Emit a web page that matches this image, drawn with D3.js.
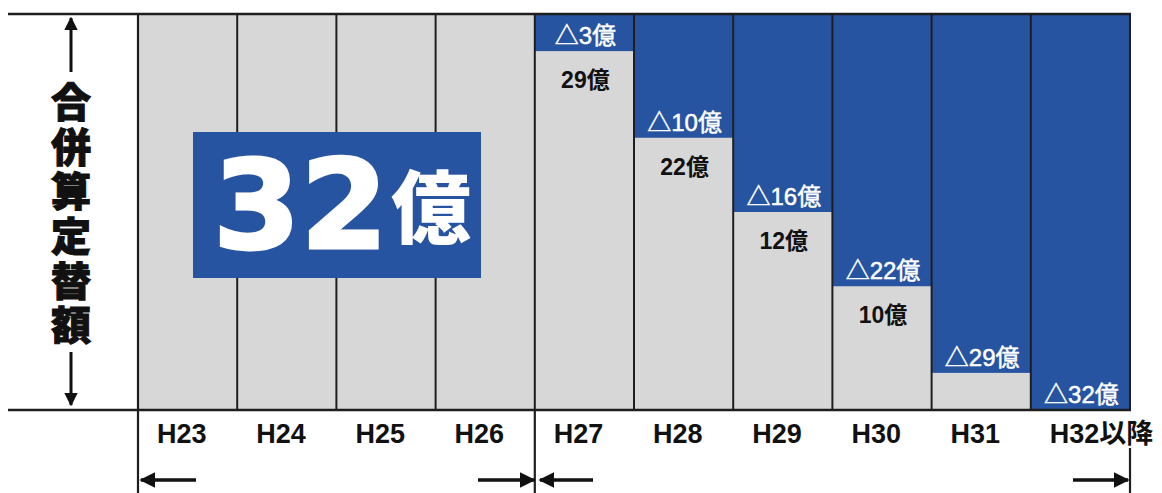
<!DOCTYPE html>
<html>
<head>
<meta charset="utf-8">
<script src="https://cdn.jsdelivr.net/npm/d3@7/dist/d3.min.js"></script>
<style>
html,body{margin:0;padding:0;background:#fff;}
svg{display:block;}
</style>
</head>
<body>
<svg id="chart" width="1162" height="493"></svg>
<script>
// ---- data ----
const categories = ["H23","H24","H25","H26","H27","H28","H29","H30","H31","H32以降"];
const total = 32;                                   // 合併算定替額 (億)
const reduction = [0,0,0,0,3,10,16,22,29,32];       // △ reduction (億)
const remainingLabel = [null,null,null,null,29,22,12,10,null,null]; // printed remaining (億)
const yAxisTitle = "合併算定替額";
const bigLabel = "32";
const unit = "億";

// ---- styles ----
const BLUE = "#2754a1", GRAY = "#d7d7d7", LINE = "#1e1e1e";
const CJK = "'Liberation Sans','Noto Sans CJK JP',sans-serif";

const svg = d3.select("#chart");
const x = d3.scaleBand().domain(categories).range([138,1130]).padding(0);
const y = d3.scaleLinear().domain([0,total]).range([410,14]);

const data = categories.map((c,i)=>({c, r:reduction[i], rem:remainingLabel[i]}));

// gray full columns
svg.selectAll("rect.gray").data(data).join("rect")
  .attr("class","gray")
  .attr("x",d=>x(d.c)).attr("width",x.bandwidth())
  .attr("y",y(total)).attr("height",y(0)-y(total))
  .attr("fill",GRAY);

// blue reduction parts (from top)
svg.selectAll("rect.blue").data(data.filter(d=>d.r>0)).join("rect")
  .attr("class","blue")
  .attr("x",d=>x(d.c)).attr("width",x.bandwidth())
  .attr("y",y(total)).attr("height",d=>y(total-d.r)-y(total))
  .attr("fill",BLUE);

// column separators
const bounds = categories.map(c=>x(c)).concat([x.range()[1]]);
svg.selectAll("line.sep").data(bounds).join("line")
  .attr("x1",d=>d).attr("x2",d=>d)
  .attr("y1",y(total)).attr("y2",y(0))
  .attr("stroke",LINE).attr("stroke-width",2);

// extended verticals below the chart
svg.append("line").attr("x1",x("H23")).attr("x2",x("H23")).attr("y1",y(total)).attr("y2",493).attr("stroke",LINE).attr("stroke-width",2.2);
svg.append("line").attr("x1",x("H27")).attr("x2",x("H27")).attr("y1",y(0)).attr("y2",493).attr("stroke",LINE).attr("stroke-width",2.2);
svg.append("line").attr("x1",x.range()[1]).attr("x2",x.range()[1]).attr("y1",448).attr("y2",493).attr("stroke",LINE).attr("stroke-width",2.2);

// top & bottom horizontal rules
svg.append("line").attr("x1",8).attr("x2",x.range()[1]+1).attr("y1",y(total)).attr("y2",y(total)).attr("stroke",LINE).attr("stroke-width",2.5);
svg.append("line").attr("x1",8).attr("x2",x.range()[1]+1).attr("y1",y(0)).attr("y2",y(0)).attr("stroke",LINE).attr("stroke-width",2.5);

// blue labels
svg.selectAll("text.red").data(data.filter(d=>d.r>0)).join("text")
  .attr("class","red")
  .attr("x",d=>x(d.c)+x.bandwidth()/2+1)
  .attr("y",d=>y(total-d.r)-7)
  .attr("text-anchor","middle")
  .attr("fill","#fff").attr("stroke","#fff").attr("stroke-width",0.5)
  .attr("font-family",CJK).attr("font-size",24)
  .text(d=>"△"+d.r+unit);

// gray remaining labels
svg.selectAll("text.rem").data(data.filter(d=>d.rem!=null)).join("text")
  .attr("class","rem")
  .attr("x",d=>x(d.c)+x.bandwidth()/2+1)
  .attr("y",d=>y(total-d.r)+37)
  .attr("text-anchor","middle")
  .attr("fill","#111")
  .attr("font-family",CJK).attr("font-size",23).attr("font-weight","bold")
  .text(d=>d.rem+unit);

// x axis (labels)
const ax = svg.append("g").attr("transform",`translate(0,${y(0)})`)
  .call(d3.axisBottom(x).tickSize(0).tickPadding(0));
ax.select(".domain").remove();
ax.selectAll("text")
  .attr("text-anchor","start")
  .attr("x",-x.bandwidth()/2+19)
  .attr("dy",0).attr("y",33)
  .attr("fill","#111")
  .attr("font-family",CJK).attr("font-size",27).attr("font-weight","bold");

// big 32億 box
svg.append("rect").attr("x",193).attr("y",132).attr("width",288).attr("height",146).attr("fill",BLUE);
svg.append("text").attr("x",213).attr("y",248)
  .attr("font-family","'DejaVu Sans',sans-serif").attr("font-weight","bold").attr("font-size",123)
  .attr("fill","#fff").attr("stroke","#fff").attr("stroke-width",3)
  .attr("textLength",175).attr("lengthAdjust","spacingAndGlyphs")
  .text(bigLabel);
svg.append("text").attr("x",391).attr("y",237)
  .attr("font-family","'Noto Sans CJK JP',sans-serif").attr("font-weight",900).attr("font-size",80)
  .attr("fill","#fff")
  .text(unit);

// arrow marker
const defs = svg.append("defs");
defs.append("marker").attr("id","ah").attr("viewBox","0 0 10 10")
  .attr("refX",9).attr("refY",5).attr("markerWidth",4.6).attr("markerHeight",4.6)
  .attr("markerUnits","strokeWidth").attr("orient","auto")
  .append("path").attr("d","M0,0 L10,5 L0,10 Z").attr("fill","#111");

function arrow(x1,y1,x2,y2,w){
  svg.append("line").attr("x1",x1).attr("y1",y1).attr("x2",x2).attr("y2",y2)
    .attr("stroke","#111").attr("stroke-width",w).attr("marker-end","url(#ah)");
}
// vertical axis title arrows
arrow(71,72,71,18,3);
arrow(71,352,71,405,3);
// bottom period arrows
arrow(196,480,141,480,3.5);
arrow(478,480,534,480,3.5);
arrow(593,480,540,480,3.5);
arrow(1073,480,1128,480,3.5);

// vertical title (single vertical text)
svg.append("text")
  .attr("x",71).attr("y",82)
  .attr("writing-mode","vertical-rl")
  .style("writing-mode","vertical-rl")
  .attr("letter-spacing",4.6)
  .attr("font-family","'Noto Sans CJK JP',sans-serif").attr("font-weight",900).attr("font-size",40)
  .attr("fill","#111").attr("stroke","#111").attr("stroke-width",1)
  .text(yAxisTitle);
</script>
</body>
</html>
